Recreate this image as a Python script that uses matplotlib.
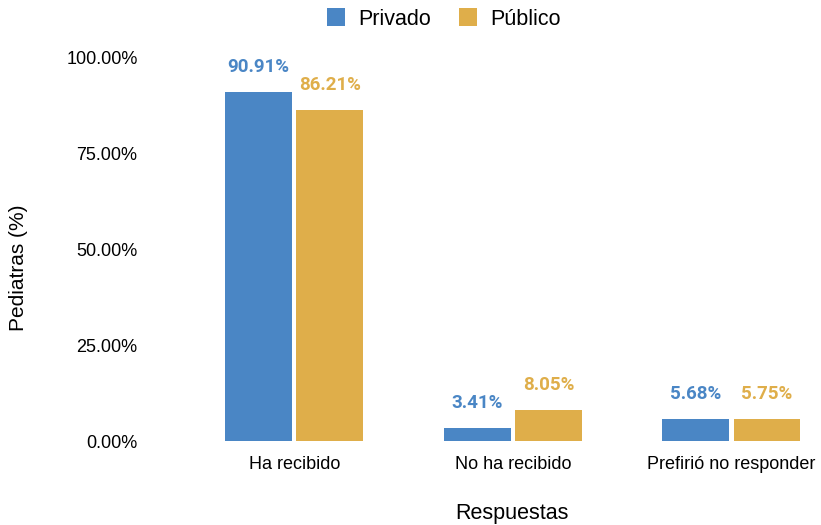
import numpy as np
import matplotlib.pyplot as plt

plt.rcParams['font.family'] = ['Liberation Sans', 'DejaVu Sans']

categorias = ['Ha recibido', 'No ha recibido', 'Prefirió no responder']
privado = [90.91, 3.41, 5.68]
publico = [86.21, 8.05, 5.75]
yticks = [0, 25, 50, 75, 100]

azul = '#4a86c5'
oro = '#dfae4a'

fig = plt.figure(figsize=(8.21, 5.25), dpi=100)
ax = fig.add_axes([150 / 821, (525 - 441) / 525, (821 - 150) / 821, 384 / 525])

x = np.arange(len(categorias))
w = 0.306
off = 0.163
b1 = ax.bar(x - off, privado, w, color=azul, label='Privado')
b2 = ax.bar(x + off, publico, w, color=oro, label='Público')

for bars, vals, c in [(b1, privado, azul), (b2, publico, oro)]:
    for b, v in zip(bars, vals):
        ax.text(b.get_x() + b.get_width() / 2, v + 4.1, f'{v:.2f}%', ha='center', va='bottom',
                color=c, fontsize=13.5, fontweight='bold', family=['Roboto', 'DejaVu Sans'])

ax.set_xlim(-0.66, 2.41)
ax.set_ylim(0, 100)
ax.set_xticks(x)
ax.set_xticklabels(categorias, fontsize=13)
ax.set_yticks(yticks)
ax.set_yticklabels([f'{v:.2f}%' for v in yticks], fontsize=13)
ax.tick_params(length=0)
ax.tick_params(axis='x', pad=11)
ax.tick_params(axis='y', pad=9)
for s in ax.spines.values():
    s.set_visible(False)

fig.text(512 / 821, 1 - 513 / 525, 'Respuestas', fontsize=15.5, ha='center', va='center')
fig.text(18 / 821, 1 - 268 / 525, 'Pediatras (%)', fontsize=15, ha='center', va='center',
         rotation=90)

fig.legend(handles=[b1, b2], loc='center', bbox_to_anchor=(444 / 821, 1 - 19 / 525), ncol=2,
           frameon=False, fontsize=15.5, handlelength=0.85, handleheight=0.85, columnspacing=1.3,
           handletextpad=0.6)

fig.savefig('out.png', dpi=100)
